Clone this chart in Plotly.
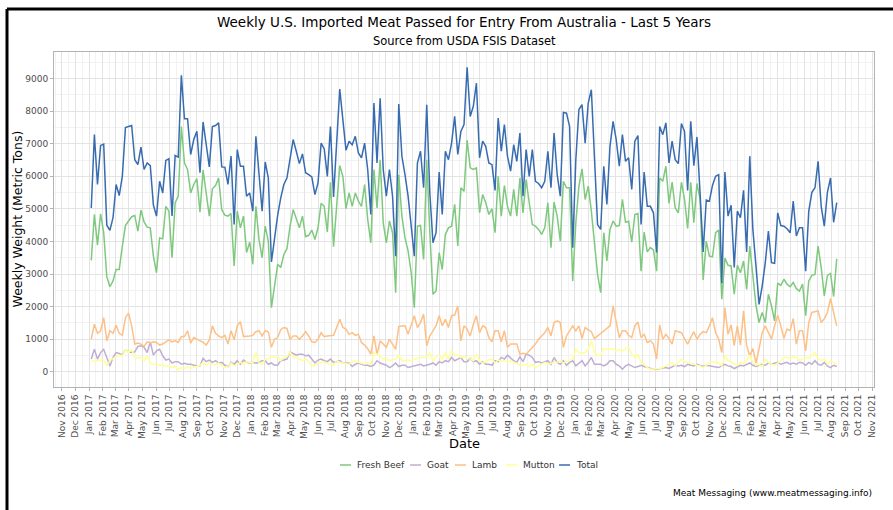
import pandas as pd
import plotly.graph_objects as go

start_date = "2017-01-06"
n_weeks = 241

total = [5030, 7280, 5750, 6950, 6990, 4500, 4340, 4730, 5750, 5410,
         6000, 7500, 7530, 7560, 6510, 6360, 6900, 6210, 6410, 6330,
         5120, 4780, 5850, 5490, 6490, 6540, 4780, 6640, 6590, 9100,
         7770, 7770, 6670, 7130, 7380, 6110, 7670, 7020, 6290, 7530,
         7560, 7640, 6290, 6280, 5750, 6620, 4520, 6820, 6310, 6310,
         5390, 5490, 4930, 7230, 6110, 4930, 6440, 5950, 3370, 4170,
         4800, 5340, 5750, 5950, 6620, 7130, 6770, 6390, 6690, 6110,
         6050, 5980, 5440, 5800, 7020, 6840, 6000, 7530, 5370, 7020,
         8680, 7740, 6800, 7080,
         6970, 7230, 6720, 6570, 7020, 6210, 4830, 8250, 6410, 8400,
         6210, 5390, 6210, 5390, 3550, 8220, 6620, 6050, 5390, 4470,
         3550, 6410, 6770, 5650, 8200, 5490, 3960, 4270, 6130, 4830,
         6770, 6510, 7020, 7840, 6670, 7380, 7590, 9350, 7840, 8150,
         8860, 6570, 7080, 6920, 6410, 6360, 5570, 7790, 6770, 7590,
         6620, 6160, 6970, 6460, 7330, 5390, 6820, 6000, 6820, 5850,
         5780, 5650, 5850, 6770, 5650, 7330, 6050, 5390, 7960, 7940,
         7530, 3810, 6510, 8050, 8200, 7020, 8250, 8660, 6620, 4520,
         4370, 6310, 5140, 6920, 7690, 7130, 6310, 7280, 6460, 6570,
         5600, 7080, 7250, 4520, 6130, 5080, 5080, 4880, 3660, 7530,
         7280, 7640, 6410, 7080, 6510, 6390, 7620, 7380, 5570, 7690,
         6330, 7210, 5490, 3680, 5270, 5240, 5720, 6000, 6050, 2720,
         6130, 4780, 5110, 3200, 4930, 4730, 5570, 3680, 6620, 4370,
         3250, 2070, 2630, 3350, 4320, 3350, 3330, 4880, 4490, 4470,
         4390, 4270, 5240, 4170, 4420, 4420, 3090, 4930, 5510, 5650,
         6460, 5080, 4470, 5510, 5950, 4590, 5190]

fresh_beef = [3420, 4830, 3890, 4850, 4270, 2920, 2610, 2790, 3140, 3140,
              3860, 4490, 4630, 4760, 4800, 4320, 4960, 4600, 4440, 4420,
              3550, 3040, 4110, 4080, 5080, 4930, 3500, 5190, 5390, 7530,
              6410, 6210, 5490, 5750, 5930, 4900, 6190, 5540, 4780, 5620,
              5720, 5950, 4980, 4810, 4780, 4860, 3250, 4930, 4420, 4780,
              3660, 3980, 3300, 5080, 4060, 3500, 4470, 4010, 1970, 2630,
              3300, 3200, 3600, 3780, 4470, 4980, 4730, 4420, 4780, 4150,
              4190, 4350, 4060, 4420, 5170, 5080, 4290, 5820, 3840, 5240,
              6330, 6000, 5010, 5490,
              5080, 5490, 5240, 5080, 5750, 4680, 3960, 6210, 5030, 6510,
              4570, 3960, 4630, 4270, 2430, 6050, 4780, 4110, 3710, 3040,
              1970, 4470, 4490, 3450, 6510, 4270, 2380, 2480, 3660, 3140,
              4220, 4420, 4470, 5140, 3860, 5650, 5540, 7110, 6260, 6210,
              6260, 4880, 5440, 5190, 4830, 5000, 4270, 6000, 4780, 5720,
              5080, 4780, 5600, 4780, 5950, 4880, 5900, 5190, 4520, 4470,
              4370, 4220, 4420, 5190, 3810, 5210, 4780, 4010, 5850, 5650,
              5650, 2790, 4570, 5700, 6230, 5290, 5700, 4930, 4010, 2990,
              2430, 4270, 3400, 4370, 4630, 4470, 4490, 5290, 4590, 4620,
              3980, 4830, 4860, 3090, 4290, 3680, 3810, 3740, 3090, 5950,
              5850, 6310, 5170, 5820, 5030, 4880, 5820, 5290, 4400, 5820,
              4580, 5780, 5300, 2820, 4010, 3550, 3530, 4270, 4350, 2230,
              3490, 3270, 3250, 2380, 3270, 3040, 3400, 2530, 3860, 2940,
              2040, 1510, 1820, 1510, 2380, 2020, 1560, 2720, 2650, 2840,
              2690, 2610, 2740, 2550, 2480, 2690, 1720, 2790, 2960, 2990,
              3860, 3200, 2330, 2960, 3020, 2310, 3470]

lamb = [1000, 1460, 1180, 1260, 1660, 950, 1260, 1180, 1430, 1180,
        1120, 1660, 1800, 1410, 850, 880, 850, 780, 920, 880,
        920, 900, 820, 850, 920, 980, 920, 950, 900, 1080,
        1080, 1260, 880, 1050, 1000, 950, 900, 820, 980, 1410,
        1180, 1100, 1050, 1120, 850, 1260, 980, 1410, 1540, 1080,
        1080, 1100, 1120, 1230, 1260, 1100, 1260, 1230, 750, 1000,
        1050, 1290, 1360, 1330, 1000, 1100, 1100, 1000, 1100, 1230,
        1100, 920, 900, 1000, 1200, 1080, 1100, 1100, 1120, 1360,
        1610, 1360, 1310, 1150,
        1200, 1120, 1150, 900, 820, 710, 540, 1100, 540, 950,
        850, 750, 1000, 850, 690, 1390, 1410, 1410, 1150, 1410,
        1720, 1360, 1510, 1770, 800, 1100, 1260, 1410, 1720, 1410,
        1610, 1360, 1720, 1740, 2020, 950, 1410, 1310, 1100, 1460,
        1720, 1200, 1410, 1360, 1050, 920, 1260, 1260, 920, 1260,
        750, 850, 850, 850, 540, 570, 540, 640, 750, 850,
        1000, 1100, 1200, 1360, 1100, 1510, 1560, 1510, 750, 1100,
        1260, 1410, 1260, 1410, 1020, 1360, 1290, 1230, 1020, 1100,
        1200, 1260, 1330, 1410, 2020, 1510, 1050, 1260, 1260, 1120,
        1050, 1410, 1530, 1050, 1150, 900, 950, 850, 390, 1440,
        1000, 1150, 1020, 850, 1260, 1230, 1200, 1020, 850, 1050,
        1230, 1000, 1150, 1230, 1200, 1410, 1660, 1200, 1000, 590,
        1970, 1150, 1440, 800, 1410, 820, 1870, 800, 490, 710,
        270, 710, 1200, 1410, 1200, 1000, 1410, 1740, 1410, 1020,
        1310, 1260, 1630, 850, 1260, 1260, 640, 1510, 1820, 1840,
        1870, 1510, 1630, 1820, 2250, 1820, 1410]

goat = [390, 690, 390, 590, 690, 440, 180, 440, 590, 560,
        520, 670, 610, 590, 610, 780, 800, 750, 590, 920,
        510, 640, 690, 490, 360, 390, 270, 310, 310, 230,
        260, 230, 230, 200, 200, 180, 410, 310, 360, 290,
        340, 270, 290, 200, 160, 290, 230, 340, 230, 360,
        290, 270, 290, 260, 290, 340, 340, 230, 270, 200,
        200, 340, 360, 390, 610, 570, 510, 540, 540, 490,
        510, 390, 270, 360, 390, 340, 310, 390, 290, 310,
        340, 270, 260, 270,
        160, 230, 270, 230, 200, 200, 160, 200, 340, 270,
        230, 200, 130, 180, 270, 160, 200, 200, 130, 160,
        180, 200, 230, 180, 200, 230, 270, 200, 310, 270,
        340, 310, 440, 340, 390, 440, 310, 310, 410, 310,
        340, 230, 310, 230, 230, 200, 340, 310, 440, 390,
        510, 410, 340, 290, 460, 310, 540, 510, 440, 290,
        310, 270, 310, 340, 230, 440, 290, 230, 340, 200,
        290, 340, 180, 270, 340, 180, 290, 440, 230, 230,
        230, 180, 230, 340, 340, 230, 180, 80, 180, 230,
        180, 130, 160, 200, 160, 130, 100, 80, 80, 100,
        100, 130, 100, 160, 200, 180, 200, 160, 230, 200,
        180, 230, 200, 160, 200, 180, 180, 160, 130, 180,
        230, 180, 160, 100, 160, 200, 180, 230, 270, 200,
        160, 200, 230, 200, 270, 230, 270, 290, 230, 270,
        290, 230, 270, 230, 290, 270, 200, 290, 230, 340,
        230, 200, 290, 180, 130, 200, 160]

mutton = [310, 340, 340, 340, 360, 200, 340, 410, 460, 510,
          490, 670, 590, 690, 440, 420, 440, 340, 490, 270,
          230, 230, 200, 200, 160, 200, 130, 180, 60, 130,
          100, 160, 100, 130, 180, 200, 290, 200, 270, 230,
          200, 270, 200, 130, 180, 270, 180, 230, 290, 230,
          310, 290, 270, 590, 270, 230, 390, 390, 460, 440,
          470, 340, 440, 460, 610, 440, 440, 390, 340, 390,
          310, 180, 200, 270, 290, 310, 260, 230, 200, 340,
          290, 270, 260, 230,
          310, 340, 290, 270, 230, 290, 230, 590, 540, 490,
          390, 410, 340, 370, 390, 510, 340, 340, 360, 340,
          390, 410, 440, 440, 460, 590, 340, 460, 490, 390,
          590, 390, 640, 540, 510, 440, 460, 440, 390, 340,
          540, 340, 270, 290, 370, 390, 270, 360, 340, 340,
          290, 340, 290, 260, 200, 200, 230, 160, 230, 130,
          180, 230, 290, 230, 260, 290, 290, 340, 270, 310,
          340, 390, 690, 590, 570, 590, 690, 950, 590, 490,
          510, 710, 690, 710, 690, 640, 690, 640, 710, 750,
          540, 440, 540, 290, 230, 130, 80, 80, 80, 100,
          130, 180, 230, 290, 180, 270, 390, 310, 290, 270,
          230, 200, 180, 130, 200, 270, 310, 290, 270, 180,
          510, 340, 290, 230, 200, 290, 230, 340, 510, 290,
          200, 230, 160, 390, 290, 230, 200, 270, 340, 440,
          440, 410, 470, 440, 340, 390, 440, 410, 510, 590,
          410, 340, 390, 230, 340, 290, 230]

series_names = ["Fresh Beef", "Goat", "Lamb", "Mutton", "Total"]
series_values = [fresh_beef, goat, lamb, mutton, total]
series_colors = ["#7fc97f", "#beaed4", "#fdc086", "#ffff99", "#386cb0"]

dates = pd.date_range(start_date, periods=n_weeks, freq="7D")

fig = go.Figure()
for name, vals, col in zip(series_names, series_values, series_colors):
    fig.add_trace(go.Scatter(x=dates, y=vals, mode="lines", name=name,
                             line=dict(color=col, width=1.5), showlegend=False))

# ggplot-like expansion
pad = (dates[-1] - dates[0]) * 0.05
x_range = [dates[0] - pad, dates[-1] + pad]
ymax = max(max(v) for v in series_values)
y_range = [-0.05 * ymax, ymax * 1.05]

major = pd.date_range("2016-11-01", "2021-11-01", freq="MS")
minor = [major[i] + (major[i + 1] - major[i]) / 2 for i in range(len(major) - 1)]
minor = [major[0] - (major[1] - major[0]) / 2] + minor + [major[-1] + pd.Timedelta(days=15)]

L, R, T, B = 54, 19, 52, 123
W, H = 893, 510
pw, ph = W - L - R, H - T - B


def px(x):
    return (x - L) / pw


def py(y):
    return (H - B - y) / ph


tick_font = dict(family="DejaVu Sans", size=9, color="#4d4d4d")

fig.update_layout(
    width=W, height=H, autosize=False,
    margin=dict(l=L, r=R, t=T, b=B),
    paper_bgcolor="white", plot_bgcolor="white",
    font=dict(family="DejaVu Sans", color="black"),
    showlegend=False,
    xaxis=dict(type="date", range=x_range, tickmode="array", tickvals=list(major),
               ticktext=[d.strftime("%b %Y") for d in major], tickangle=-90,
               tickfont=tick_font, ticks="outside", ticklen=3, tickcolor="#b3b3b3",
               showgrid=True, gridcolor="#e3e3e3", gridwidth=1,
               minor=dict(tickmode="array", tickvals=minor, showgrid=True,
                          gridcolor="#f2f2f2", gridwidth=1, ticks=""),
               showline=True, mirror=True, linecolor="#b3b3b3", linewidth=1,
               zeroline=False, automargin=False),
    yaxis=dict(range=y_range, tickmode="linear", tick0=0, dtick=1000, tickformat="d",
               tickfont=tick_font, ticks="outside", ticklen=3, tickcolor="#b3b3b3",
               showgrid=True, gridcolor="#e3e3e3", gridwidth=1,
               minor=dict(tickmode="linear", tick0=500, dtick=1000, showgrid=True,
                          gridcolor="#f2f2f2", gridwidth=1, ticks=""),
               showline=True, mirror=True, linecolor="#b3b3b3", linewidth=1,
               zeroline=False, automargin=False),
)

ann = [
    dict(text="Weekly U.S. Imported Meat Passed for Entry From Australia - Last 5 Years",
         x=0.5, y=py(22), font=dict(size=13.5, color="black")),
    dict(text="Source from USDA FSIS Dataset", x=0.5, y=py(41),
         font=dict(size=11.5, color="black")),
    dict(text="Date", x=0.5, y=py(443), font=dict(size=13, color="black")),
    dict(text="Weekly Weight (Metric Tons)", x=px(17), y=0.5, textangle=-90,
         font=dict(size=12.5, color="black")),
    dict(text="Meat Messaging (www.meatmessaging.info)", x=1.0, xanchor="right",
         y=py(493), font=dict(size=9, color="black")),
]
for a in ann:
    a.setdefault("xanchor", "center")
    fig.add_annotation(xref="paper", yref="paper", showarrow=False, yanchor="middle",
                       **{**a, "font": dict(family="DejaVu Sans", **a["font"])})

# manual legend (ggplot-like compact horizontal key)
legend_key_x = [340, 410, 455, 506, 559]
legend_y = 465
for name, col, kx in zip(series_names, series_colors, legend_key_x):
    fig.add_shape(type="line", xref="paper", yref="paper", x0=px(kx), x1=px(kx + 11),
                  y0=py(legend_y), y1=py(legend_y), line=dict(color=col, width=1.5))
    fig.add_annotation(xref="paper", yref="paper", showarrow=False, x=px(kx + 15),
                       y=py(legend_y), xanchor="left", yanchor="middle", text=name,
                       font=dict(family="DejaVu Sans", size=9, color="#333333"))

# outer black frame (top and left edges)
fig.add_shape(type="line", xref="paper", yref="paper", x0=px(7), x1=px(W + 5),
              y0=py(9), y1=py(9), line=dict(color="black", width=3))
fig.add_shape(type="line", xref="paper", yref="paper", x0=px(7), x1=px(7),
              y0=py(9), y1=py(H + 5), line=dict(color="black", width=3))

fig.write_html("out.html", config={"displayModeBar": False},
               post_script="document.body.style.margin='0px';")
